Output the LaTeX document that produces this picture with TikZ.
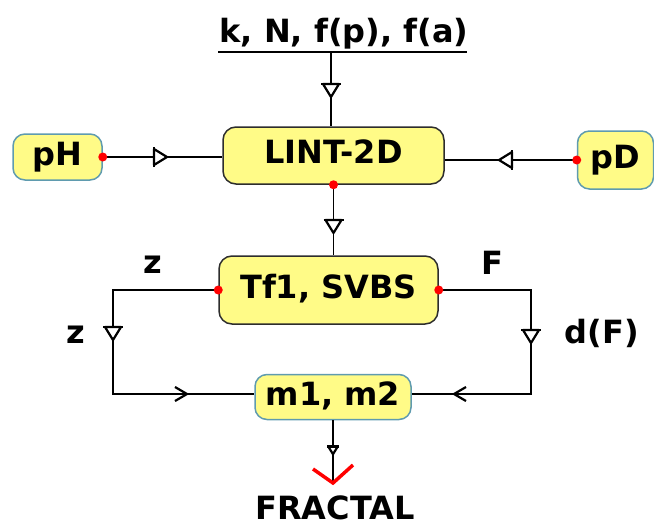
\documentclass[tikz,border=0pt]{standalone}
\usepackage{fontspec}
\setmainfont{DejaVu Sans}
\definecolor{boxfill}{RGB}{255,251,135}
\definecolor{boxdark}{RGB}{45,45,45}
\definecolor{tealc}{RGB}{95,155,175}
\begin{document}
\begin{tikzpicture}[x=1pt,y=1pt,
  box/.style={draw=boxdark, line width=1.5pt, fill=boxfill, rounded corners=13pt,
    inner sep=0pt, font=\bfseries\fontsize{32}{38}\selectfont,
    text height=23pt, text depth=7pt},
  tealbox/.style={box, draw=tealc},
  lbl/.style={font=\bfseries\fontsize{32}{38}\selectfont, inner sep=0pt},
  conn/.style={line width=1.8pt, black},
  tri/.pic={\draw[line width=2.2pt, fill=white, line join=round] (-6,-8) -- (7,0) -- (-6,8) -- cycle;
            \draw[line width=2.2pt] (-6,-10) -- (-6,10);},
  chev/.pic={\draw[line width=2.2pt, line join=round] (-8,-7) -- (4,0) -- (-8,7);}
]
\useasboundingbox (0,0) rectangle (654,-530);

% input label
\node[lbl, anchor=base] (inp) at (344,-42) {k, N, f(p), f(a)};
\coordinate (ulL) at (218,-52);
\coordinate (ulR) at (467,-52);
\coordinate (inTop) at (331,-52);
\draw[conn] (ulL) -- (ulR);

% boxes
\node[box, minimum width=221pt, minimum height=57pt] (lint) at (333.5,-155.5) {LINT-2D};
\node[tealbox, rounded corners=12pt, minimum width=89pt, minimum height=46pt] (ph) at (57.5,-157) {pH};
\node[tealbox, rounded corners=12pt, minimum width=76pt, minimum height=58pt] (pd) at (615.5,-160) {pD};
\node[box, minimum width=219pt, minimum height=68pt] (tf) at (328.5,-290) {Tf1, SVBS};
\node[tealbox, rounded corners=12pt, minimum width=156pt, minimum height=45pt] (m) at (333,-397) {m1, m2};

% top input
\draw[conn] (inTop) -- (inTop |- lint.north);
\pic[rotate=-90] at (331,-90) {tri};

% pH -> LINT
\draw[conn] (ph.east) -- (ph.east -| lint.west);
\pic at (160,-157) {tri};
% pD -> LINT
\draw[conn] (pd.west) -- (pd.west -| lint.east);
\pic[rotate=180] at (506,-160) {tri};

% LINT -> Tf1
\draw[conn] (lint.south) -- (lint.south |- tf.north);
\pic[rotate=-90] at (333.5,-226) {tri};

% left branch
\coordinate (cL) at (113,-290);
\coordinate (bL) at (113,-394);
\draw[conn] (tf.west) -- (cL) -- (bL) -- (bL -| m.west);
\pic[rotate=-90] at (113,-333) {tri};
\pic at (183,-394) {chev};

% right branch
\coordinate (cR) at (531,-290);
\coordinate (bR) at (531,-394);
\draw[conn] (tf.east) -- (cR) -- (bR) -- (bR -| m.east);
\pic[rotate=-90] at (531,-336) {tri};
\pic[rotate=180] at (458,-394) {chev};

% labels
\node[lbl, anchor=base] (lz1) at (153,-273) {z};
\node[lbl, anchor=base] (lF) at (492,-274) {F};
\node[lbl, anchor=base] (lz2) at (76,-343) {z};
\node[lbl, anchor=base] (ldF) at (602,-343) {d(F)};

% output
\coordinate (vb) at (333,-483);
\draw[conn] (m.south) -- (vb);
\pic[rotate=-90, scale=0.6] at (333,-450) {tri};
\draw[red, line width=3.5pt, line join=miter] (313,-469) -- (vb) -- (353,-465);
\node[lbl, anchor=base] (fr) at (335,-519) {FRACTAL};

% red dots
\fill[red] (ph.east) circle (4.5);
\fill[red] (pd.west) circle (4.5);
\fill[red] (lint.south) circle (4.5);
\fill[red] (tf.west) circle (4.5);
\fill[red] (tf.east) circle (4.5);
\end{tikzpicture}
\end{document}
